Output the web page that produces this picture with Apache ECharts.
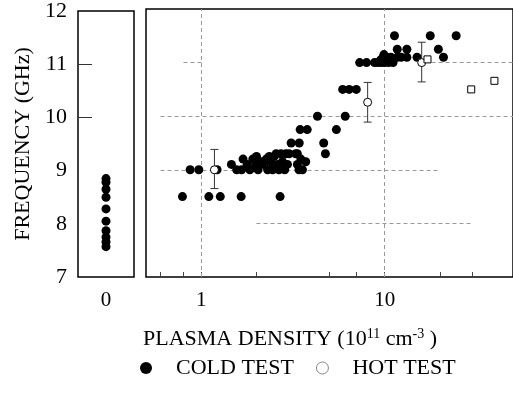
<!DOCTYPE html>
<html>
<head>
<meta charset="utf-8">
<script src="https://cdn.jsdelivr.net/npm/echarts@6/dist/echarts.min.js"></script>
<style>
html,body{margin:0;padding:0;background:#fff;}
#chart{width:513px;height:414px;}
</style>
</head>
<body>
<div id="chart"></div>
<script>
// ---- data ----
var zeroCategory = ['0'];
var coldZeroFreq = [8.85, 8.78, 8.65, 8.5, 8.28, 8.05, 7.87, 7.75, 7.66, 7.57];

var coldDensity = [
  0.79, 1.10, 1.27, 1.65, 2.69,
  0.87, 0.97, 1.22, 1.56, 1.66, 1.84, 2.04, 2.30, 2.45, 2.65, 2.85, 3.41, 3.56,
  1.46, 1.78, 1.98, 2.19, 2.61, 2.95, 3.34,
  2.12, 2.40, 2.77, 3.71,
  1.69, 1.91, 2.26, 3.49,
  2.0, 2.35, 2.5,
  2.56, 2.72, 2.89, 3.01, 3.27, 3.34, 4.75,
  3.09, 3.42, 4.65,
  3.46, 3.78, 5.45,
  4.30, 6.09,
  5.9, 6.4, 7.0,
  7.3, 7.96, 8.8, 9.2, 9.6, 10.0, 10.5, 11.1,
  9.5, 10.3, 9.9,
  9.8, 10.2, 10.8, 11.7, 12.3, 13.2, 15.0, 20.9,
  11.7, 13.2, 19.6,
  11.3, 17.7, 24.5
];
var coldFreq = [
  8.5, 8.5, 8.5, 8.5, 8.5,
  9.0, 9.0, 9.0, 9.0, 9.0, 9.0, 9.0, 9.0, 9.0, 9.0, 9.0, 9.0, 9.0,
  9.1, 9.1, 9.1, 9.1, 9.1, 9.1, 9.1,
  9.15, 9.15, 9.15, 9.15,
  9.2, 9.2, 9.2, 9.2,
  9.25, 9.25, 9.25,
  9.3, 9.3, 9.3, 9.3, 9.3, 9.3, 9.3,
  9.5, 9.5, 9.5,
  9.75, 9.75, 9.75,
  10.0, 10.0,
  10.5, 10.5, 10.5,
  11.0, 11.0, 11.0, 11.0, 11.0, 11.0, 11.0, 11.0,
  11.05, 11.05, 11.15,
  11.1, 11.1, 11.1, 11.1, 11.1, 11.1, 11.1, 11.1,
  11.25, 11.25, 11.25,
  11.5, 11.5, 11.5
];

var hotDensity = [1.18, 8.07, 15.9];
var hotFreq    = [9.0, 10.26, 11.0];
var hotLow     = [8.65, 9.89, 10.64];
var hotHigh    = [9.38, 10.63, 11.38];

var squareDensity = [17.1, 29.6, 39.6];
var squareFreq    = [11.06, 10.5, 10.66];

var yTicks = [7, 8, 9, 10, 11, 12];
var xLabelValues = [1, 10];
var xMinorTicks = [0.6, 0.8, 1, 2, 5, 7, 10, 20, 30];

// gridline segments [x1, x2, y] and vertical [x, y1, y2]
var hGrid = [[0.6, 20, 9], [0.6, 50, 10], [18, 50, 11], [0.8, 1, 11], [2, 30, 8]];
var vGrid = [[1, 7, 12], [10, 7, 12]];

// ---- build ----
var FONT = "'Liberation Serif','Times New Roman',serif";
function zip(a, b) { return a.map(function (v, i) { return [v, b[i]]; }); }

var markData = [];
hGrid.forEach(function (s) { markData.push([{coord: [s[0], s[2]]}, {coord: [s[1], s[2]]}]); });
vGrid.forEach(function (s) { markData.push([{coord: [s[0], s[1]]}, {coord: [s[0], s[2]]}]); });

var hotData = hotDensity.map(function (v, i) { return [v, hotFreq[i], hotLow[i], hotHigh[i]]; });

var chart = echarts.init(document.getElementById('chart'), null, {renderer: 'canvas'});
chart.setOption({
  animation: false,
  backgroundColor: '#fff',
  textStyle: {fontFamily: FONT, color: '#000'},
  grid: [
    {left: 78, top: 9, width: 56, height: 268, show: true, borderColor: '#000', borderWidth: 1.5, backgroundColor: 'transparent'},
    {left: 146, top: 9, right: -4, height: 268, show: true, borderColor: '#000', borderWidth: 1.5, backgroundColor: 'transparent'}
  ],
  xAxis: [
    {type: 'category', gridIndex: 0, data: zeroCategory, boundaryGap: true,
     axisLine: {show: false}, axisTick: {show: false}, splitLine: {show: false},
     axisLabel: {fontSize: 21, fontFamily: FONT, color: '#000', margin: 13}},
    {type: 'log', logBase: 10, gridIndex: 1, min: 0.5, max: 50,
     axisLine: {show: false}, splitLine: {show: false},
     axisTick: {show: true, inside: true, length: 5, customValues: xMinorTicks, lineStyle: {color: '#444'}},
     axisLabel: {fontSize: 21, fontFamily: FONT, color: '#000', margin: 13, customValues: xLabelValues,
       formatter: function (v) { return String(Math.round(v)); }}}
  ],
  yAxis: [
    {type: 'value', gridIndex: 0, min: 7, max: 12, interval: 1,
     name: 'FREQUENCY (GHz)', nameLocation: 'middle', nameGap: 44, nameRotate: 90,
     nameTextStyle: {fontSize: 22, fontFamily: FONT, color: '#000'},
     axisLine: {show: false}, splitLine: {show: false},
     axisTick: {show: true, inside: true, length: 14, customValues: [10, 11], lineStyle: {color: '#333'}},
     axisLabel: {fontSize: 22, fontFamily: FONT, color: '#000', margin: 11, customValues: yTicks}},
    {type: 'value', gridIndex: 1, min: 7, max: 12, interval: 1,
     axisLine: {show: false}, splitLine: {show: false}, axisTick: {show: false}, axisLabel: {show: false}}
  ],
  legend: {
    selectedMode: false,
    left: 135, top: 352,
    itemWidth: 30, itemHeight: 12, itemGap: 22,
    textStyle: {fontSize: 22, fontFamily: FONT, color: '#000', padding: [0, 0, 0, 10]},
    data: [
      {name: 'COLD TEST', icon: 'circle', itemStyle: {color: '#000', borderWidth: 0, opacity: 1}},
      {name: 'HOT TEST', icon: 'circle', itemStyle: {color: '#fff', borderColor: '#888', borderWidth: 1, opacity: 1}}
    ]
  },
  graphic: [
    {type: 'text', left: 143, top: 327, silent: true,
     style: {text: 'PLASMA DENSITY (10{sup|11} cm{sup|-3} )', fontSize: 22, fontFamily: FONT, fill: '#000',
       rich: {sup: {fontSize: 14, fontFamily: FONT, fill: '#000', verticalAlign: 'top', padding: [0, 0, 10, 0]}}}}
  ],
  series: [
    {name: 'COLD TEST', type: 'scatter', xAxisIndex: 0, yAxisIndex: 0, symbol: 'circle', symbolSize: 9,
     itemStyle: {color: '#000', opacity: 1}, data: coldZeroFreq.map(function (v) { return [zeroCategory[0], v]; }), z: 5},
    {name: 'COLD TEST', type: 'scatter', xAxisIndex: 1, yAxisIndex: 1, symbol: 'circle', symbolSize: 9,
     itemStyle: {color: '#000', opacity: 1}, data: zip(coldDensity, coldFreq), z: 5,
     markLine: {silent: true, symbol: 'none', label: {show: false},
       lineStyle: {color: '#999', type: [4, 3], width: 1}, data: markData}},
    {name: 'HOT ERR', type: 'custom', xAxisIndex: 1, yAxisIndex: 1, data: hotData, z: 6,
     encode: {x: 0, y: 1},
     renderItem: function (params, api) {
       var x = api.value(0);
       var top = api.coord([x, api.value(3)]);
       var bot = api.coord([x, api.value(2)]);
       var w = 4;
       var st = {stroke: '#333', lineWidth: 1};
       return {type: 'group', children: [
         {type: 'line', shape: {x1: top[0], y1: top[1], x2: bot[0], y2: bot[1]}, style: st},
         {type: 'line', shape: {x1: top[0] - w, y1: top[1], x2: top[0] + w, y2: top[1]}, style: st},
         {type: 'line', shape: {x1: bot[0] - w, y1: bot[1], x2: bot[0] + w, y2: bot[1]}, style: st}
       ]};
     }},
    {name: 'HOT TEST', type: 'scatter', xAxisIndex: 1, yAxisIndex: 1, symbol: 'circle', symbolSize: 8,
     itemStyle: {color: '#fff', borderColor: '#000', borderWidth: 1, opacity: 1}, data: zip(hotDensity, hotFreq), z: 7},
    {name: 'SQUARES', type: 'scatter', xAxisIndex: 1, yAxisIndex: 1, symbol: 'rect', symbolSize: 7,
     itemStyle: {color: '#fff', borderColor: '#000', borderWidth: 1, opacity: 1}, data: zip(squareDensity, squareFreq), z: 7}
  ]
});
</script>
</body>
</html>
